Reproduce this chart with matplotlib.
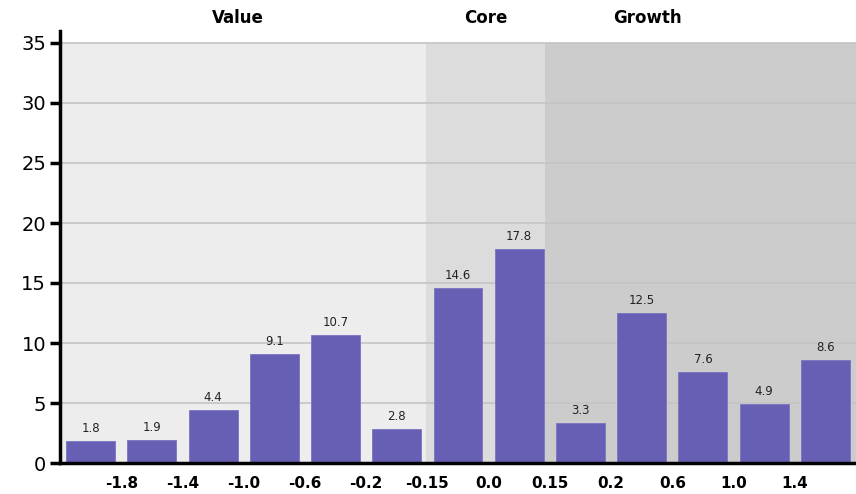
import numpy as np
import matplotlib
matplotlib.use("Agg")
import matplotlib.pyplot as plt

# bar values (left to right)
values = [1.8, 1.9, 4.4, 9.1, 10.7, 2.8, 14.6, 17.8, 3.3, 12.5, 7.6, 4.9, 8.6]
# labels sit on the boundaries between bars
edge_labels = ['-1.8', '-1.4', '-1.0', '-0.6', '-0.2', '-0.15', '0.0',
               '0.15', '0.2', '0.6', '1.0', '1.4']
# style zones: name, start, end (in bar-slot units)
zone_names = ['Value', 'Core', 'Growth']
zone_bounds = [(-0.5, 5.48), (5.48, 7.42), (7.42, 12.5)]
zone_colors = ['#ededed', '#dcdcdc', '#cccccc']
zone_title_x = [2.4, 6.45, 9.1]

bar_color = '#675fb3'

fig = plt.figure(figsize=(8.56, 4.94), dpi=100)
ax = fig.add_axes([60 / 856, 31 / 494, 1 - 60 / 856, (463 - 31) / 494])

ymax = 36
ax.set_ylim(0, ymax)
ax.set_xlim(-0.5, len(values) - 0.5)

for (x0, x1), c in zip(zone_bounds, zone_colors):
    ax.axvspan(x0, x1, ymin=0, ymax=35 / ymax, color=c, lw=0, zorder=0)

for y in range(5, 40, 5):
    ax.axhline(y, color='#c4c4c4', lw=1.2, zorder=1)

x = np.arange(len(values))
bars = ax.bar(x, values, width=0.8, color=bar_color, edgecolor='#7a73c4',
              linewidth=0.6, zorder=2)
for xi, v in zip(x, values):
    ax.text(xi, v + 0.5, f'{v:.1f}', ha='center', va='bottom', fontsize=8.5,
            color='#222222', zorder=3)

for name, tx in zip(zone_names, zone_title_x):
    ax.text(tx, 37.1, name, ha='center', va='center', fontsize=12,
            fontweight='bold', color='black', clip_on=False)

ax.set_yticks(range(0, 40, 5))
ax.set_yticklabels([str(v) for v in range(0, 40, 5)], fontsize=14)
ax.tick_params(axis='y', length=7, width=2.5, color='black', pad=3)

edges = np.arange(len(edge_labels)) + 0.5
ax.set_xticks(edges)
ax.set_xticklabels(edge_labels, fontsize=11, fontweight='bold')
ax.tick_params(axis='x', length=0, pad=9)

for s in ['top', 'right']:
    ax.spines[s].set_visible(False)
ax.spines['left'].set_linewidth(2.5)
ax.spines['bottom'].set_linewidth(2.5)
ax.spines['left'].set_zorder(5)
ax.spines['bottom'].set_zorder(5)

fig.savefig('out.png', dpi=100)
